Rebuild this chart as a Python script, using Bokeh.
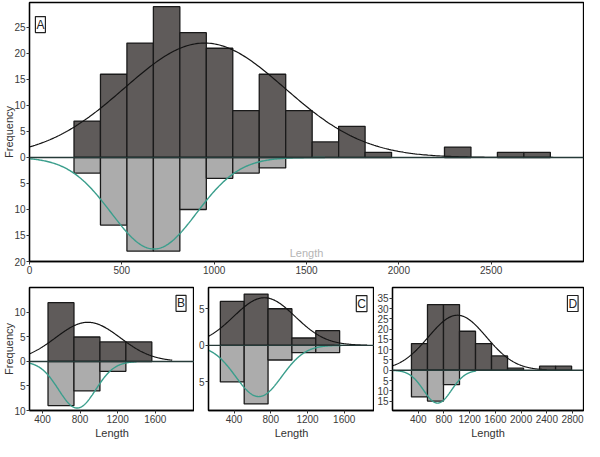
import numpy as np
from bokeh.plotting import figure
from bokeh.layouts import column, row
from bokeh.models import Range1d, FixedTicker, Span, Label
from bokeh.embed import file_html
from bokeh.resources import INLINE

# ---------------- data ----------------
# Panel A
a_bin_start = 241
a_bin_width = 143.3
a_top_counts = [7, 16, 22, 29, 24, 21, 9, 16, 9, 3, 6, 1, 0, 0, 2, 0, 1, 1]
a_bottom_counts = [3, 13, 18, 18, 10, 4, 3, 2]
a_top_fit = dict(peak=22.0, mean=948, sd=434, x0=0, x1=3000)
a_bottom_fit = dict(peak=17.6, mean=674, sd=231, x0=0, x1=1600)
a_xticks = [0, 500, 1000, 1500, 2000, 2500]
a_yticks = [-20, -15, -10, -5, 0, 5, 10, 15, 20, 25]

# Panel B
b_bin_start = 459
b_bin_width = 276
b_top_counts = [12, 5, 4, 4]
b_bottom_counts = [9, 6, 2]
b_top_fit = dict(peak=8.0, mean=883, sd=344, x0=262, x1=1780)
b_bottom_fit = dict(peak=9.5, mean=769, sd=197, x0=262, x1=1400)
b_xticks = [400, 800, 1200, 1600]
b_yticks = [-10, -5, 0, 5, 10]

# Panel C
c_bin_start = 250
c_bin_width = 260
c_top_counts = [6, 7, 5, 1, 2]
c_bottom_counts = [5, 8, 2, 1, 1]
c_top_fit = dict(peak=6.5, mean=730, sd=335, x0=121, x1=1850)
c_bottom_fit = dict(peak=7.0, mean=668, sd=252, x0=121, x1=1600)
c_xticks = [400, 800, 1200, 1600]
c_yticks = [-5, 0, 5]

# Panel D
d_bin_start = 295
d_bin_width = 249
d_top_counts = [13, 32, 32, 19, 13, 7, 1, 0, 2, 2]
d_bottom_counts = [13, 15, 7]
d_top_fit = dict(peak=26.8, mean=1009, sd=450, x0=0, x1=2400)
d_bottom_fit = dict(peak=16.0, mean=700, sd=217, x0=0, x1=1300)
d_xticks = [400, 800, 1200, 1600, 2000, 2400, 2800]
d_yticks = [-15, -10, -5, 0, 5, 10, 15, 20, 25, 30, 35]

# ---------------- styling ----------------
FONT = "Liberation Sans"
DARK = "#5f5b5a"
LIGHT = "#acacac"
EDGE = "#1a1a1a"
TEAL = "#3a9e8c"
TICKC = "#3a3a3a"


def curve(fit):
    xs = np.linspace(fit["x0"], fit["x1"], 300)
    ys = fit["peak"] * np.exp(-0.5 * ((xs - fit["mean"]) / fit["sd"]) ** 2)
    return xs, ys


def panel(width, height, xr, yr, start, bw, top, bottom, tfit, bfit,
          xticks, yticks, tag, tag_x, tag_y, tag_align,
          borders, ylabel=None, xlabel="Length"):
    p = figure(width=width, height=height, output_backend="svg",
               toolbar_location=None, x_range=Range1d(*xr),
               y_range=Range1d(*yr))
    p.min_border_left, p.min_border_right, p.min_border_top, p.min_border_bottom = borders
    p.xgrid.visible = False
    p.ygrid.visible = False
    p.outline_line_color = "black"
    p.outline_line_width = 1.3
    p.background_fill_color = "white"
    p.border_fill_color = "white"

    lt = [start + i * bw for i, c in enumerate(top) if c > 0]
    ct = [c for c in top if c > 0]
    p.quad(left=lt, right=[v + bw for v in lt], top=ct, bottom=0,
           fill_color=DARK, line_color=EDGE, line_width=1.3)
    lb = [start + i * bw for i, c in enumerate(bottom) if c > 0]
    cb = [-c for c in bottom if c > 0]
    p.quad(left=lb, right=[v + bw for v in lb], top=0, bottom=cb,
           fill_color=LIGHT, line_color=EDGE, line_width=1.3)

    p.add_layout(Span(location=0, dimension="width", line_color="#263b39",
                      line_width=1.3))
    xs, ys = curve(tfit)
    p.line(xs, ys, line_color="#141414", line_width=1.2)
    xs, ys = curve(bfit)
    p.line(xs, -ys, line_color=TEAL, line_width=1.4)

    for ax in (p.xaxis[0], p.yaxis[0]):
        ax.axis_line_color = "black"
        ax.axis_line_width = 1.3
        ax.major_tick_line_color = "#333333"
        ax.major_tick_out = 3
        ax.major_tick_in = 0
        ax.minor_tick_line_color = None
        ax.major_label_text_font = FONT
        ax.major_label_text_font_size = "10px"
        ax.major_label_text_color = TICKC
        ax.major_label_standoff = 1
        ax.axis_label_text_font = FONT
        ax.axis_label_text_font_style = "normal"
        ax.axis_label_text_font_size = "11px"
        ax.axis_label_text_color = "#333333"
        ax.axis_label_standoff = 1
    p.xaxis.ticker = FixedTicker(ticks=xticks)
    p.yaxis.ticker = FixedTicker(ticks=yticks)
    p.yaxis.major_label_overrides = {t: str(abs(t)) for t in yticks}
    if ylabel:
        p.yaxis.axis_label = ylabel
        p.yaxis.axis_label_standoff = -4
    if xlabel:
        p.xaxis.axis_label = xlabel

    p.add_layout(Label(x=tag_x, y=tag_y, text=tag, text_align=tag_align,
                       text_baseline="top", text_font=FONT,
                       text_font_size="12px", text_color="#222222",
                       border_line_color="#222222", border_line_width=1.2,
                       background_fill_color="white", padding=1))
    return p


pA = panel(584, 279, (0, 3000), (-20, 29.8), a_bin_start, a_bin_width,
           a_top_counts, a_bottom_counts, a_top_fit, a_bottom_fit,
           a_xticks, a_yticks, "A", 32, 27.1, "left",
           (27, 1, 2, 18), ylabel="Frequency", xlabel=None)
pA.add_layout(Label(x=1500, y=-19.6, text="Length", text_align="center",
                    text_baseline="bottom", text_font=FONT,
                    text_font_size="11px", text_color="#b5b5b5"))

pB = panel(194, 162, (262, 2017), (-10, 15.1), b_bin_start, b_bin_width,
           b_top_counts, b_bottom_counts, b_top_fit, b_bottom_fit,
           b_xticks, b_yticks, "B", 1927, 13.5, "right",
           (27, 0, 8, 30), ylabel="Frequency")
pC = panel(180, 162, (121, 1930), (-8.9, 7.9), c_bin_start, c_bin_width,
           c_top_counts, c_bottom_counts, c_top_fit, c_bottom_fit,
           c_xticks, c_yticks, "C", 1848, 6.8, "right",
           (14, 0, 8, 30))
pD = panel(210, 162, (0, 2970), (-19.6, 40.3), d_bin_start, d_bin_width,
           d_top_counts, d_bottom_counts, d_top_fit, d_bottom_fit,
           d_xticks, d_yticks, "D", 2886, 36.4, "right",
           (18, 1, 8, 30))

layout = column(pA, row(pB, pC, pD, spacing=0), spacing=0)

with open("out.html", "w") as f:
    f.write(file_html(layout, INLINE))
